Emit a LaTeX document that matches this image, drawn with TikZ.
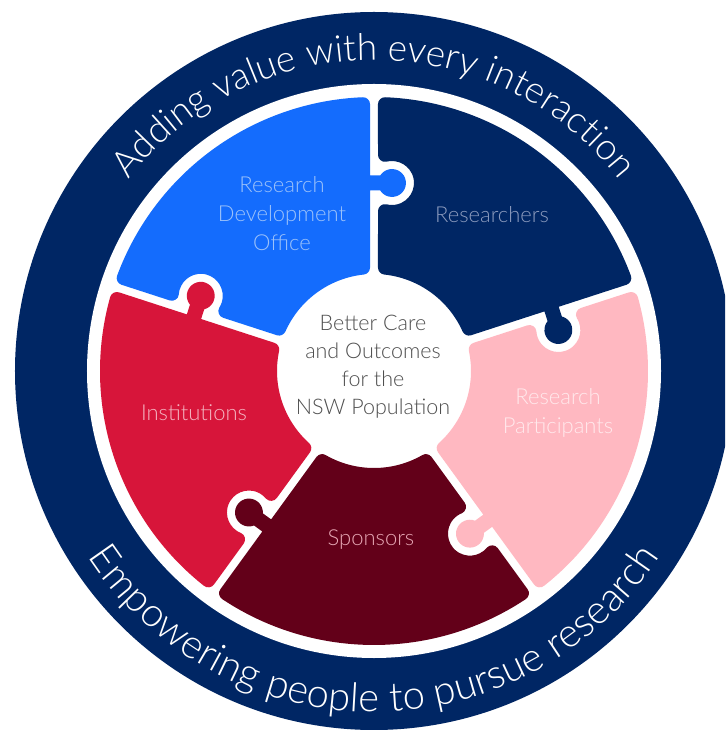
\documentclass[tikz,border=0pt]{standalone}
\usepackage{fontspec}
\setmainfont{Lato}
\IfFontExistsTF{Lato Light}{\newfontfamily\PZlight{Lato Light}}{\newfontfamily\PZlight{Lato}}
\usetikzlibrary{calc,decorations.text}
\definecolor{nswnavy}{HTML}{002664}
\definecolor{nswblue}{HTML}{146CFD}
\definecolor{nswmaroon}{HTML}{630019}
\definecolor{nswred}{HTML}{D7153A}
\definecolor{nswpink}{HTML}{FFB8C1}
\definecolor{txtblue}{HTML}{9CC2FA}
\definecolor{txtnavy}{HTML}{8C9BBE}
\definecolor{txtpink}{HTML}{FFE9EC}
\definecolor{txtmaroon}{HTML}{E6A7B4}
\definecolor{txtred}{HTML}{F4B3C0}
\definecolor{txtgrey}{HTML}{4F4F4F}
% geometry (1pt = 1px); shapes are shrunk by rho = 7 and re-grown by a 14pt stroke
\def\PZro{267}   % outer radius minus rho
\def\PZri{104}   % inner radius plus rho
\def\PZe{11}     % half gap plus rho
\def\PZk{188}    % radial position of knob
\def\PZd{18}     % knob head offset from divider
\def\PZh{7}      % shrunk knob head radius
\def\PZn{0.5}    % shrunk knob neck half width
\def\PZH{29}     % shrunk socket radius
\newcommand{\PZpiece}[2]{%
  \pgfmathsetmacro{\PZa}{#1}%
  \pgfmathsetmacro{\PZb}{#1+72}%
  \pgfmathsetmacro{\PZao}{\PZa+asin(\PZe/\PZro)}%
  \pgfmathsetmacro{\PZbo}{\PZb-asin(\PZe/\PZro)}%
  \pgfmathsetmacro{\PZai}{\PZa+asin(\PZe/\PZri)}%
  \pgfmathsetmacro{\PZbi}{\PZb-asin(\PZe/\PZri)}%
  \pgfmathsetmacro{\PZal}{acos(\PZn/\PZh)}%
  \pgfmathsetmacro{\PZtn}{\PZd-sqrt(\PZh*\PZh-\PZn*\PZn)}%
  \pgfmathsetmacro{\PZbe}{asin((\PZd-\PZe)/\PZH)}%
  \pgfmathsetmacro{\PZsq}{sqrt(\PZH*\PZH-(\PZd-\PZe)*(\PZd-\PZe))}%
  \pgfmathsetmacro{\PZsu}{\PZk+\PZsq}%
  \pgfmathsetmacro{\PZnl}{\PZk-\PZn}%
  \pgfmathsetmacro{\PZnu}{\PZk+\PZn}%
  \pgfmathsetmacro{\PZsA}{\PZb+\PZbe}%
  \pgfmathsetmacro{\PZsB}{\PZb-180-\PZbe}%
  \pgfmathsetmacro{\PZkA}{\PZa+180-\PZal}%
  \pgfmathsetmacro{\PZkB}{\PZa+360+\PZal}%
  \filldraw[piecestyle, fill=#2, draw=#2]
    (\PZao:\PZro) arc[start angle=\PZao, end angle=\PZbo, radius=\PZro]
    -- ($(\PZb:\PZsu)+(\PZb-90:\PZe)$)
    arc[start angle=\PZsA, end angle=\PZsB, radius=\PZH]
    -- (\PZbi:\PZri)
    arc[start angle=\PZbi, end angle=\PZai, radius=\PZri]
    -- ($(\PZa:\PZnl)+(\PZa+90:\PZe)$)
    -- ($(\PZa:\PZnl)+(\PZa-90:\PZtn)$)
    arc[start angle=\PZkA, end angle=\PZkB, radius=\PZh]
    -- ($(\PZa:\PZnu)+(\PZa+90:\PZe)$)
    -- cycle;
}
\newcommand{\PZringfontA}{\PZlight\fontsize{37}{37}\selectfont}
\newcommand{\PZringfontB}{\PZlight\fontsize{40}{40}\selectfont}
\begin{document}
\begin{tikzpicture}[x=1pt,y=1pt,
  piecestyle/.style={line width=14pt, line join=round},
  lbl/.style={align=center, font=\PZlight\fontsize{22}{29}\selectfont, inner sep=0pt},
  ringtext/.style={decorate, decoration={text along path, text align=center, text color=white, text={#1}}}]
\useasboundingbox (-374,-359) rectangle (351,371);
\clip (-374,-359) rectangle (351,371);
\fill[white] (-374,-359) rectangle (351,371);
% outer ring
\fill[nswnavy] (0,0) circle[radius=359];
\fill[white] (0,0) circle[radius=287];
% ring texts
\path[ringtext={|\PZringfontA|Adding value with every interaction}]
  (170:311) arc[start angle=170, end angle=10, radius=311];
\path[ringtext={|\PZringfontB|Empowering people to pursue research}]
  (190:341) arc[start angle=190, end angle=350, radius=341];
% puzzle pieces
\PZpiece{90}{nswblue}
\PZpiece{18}{nswnavy}
\PZpiece{-54}{nswpink}
\PZpiece{-126}{nswmaroon}
\PZpiece{162}{nswred}
% labels
\node[lbl, text=txtblue] (rdo) at (-92,157) {Research\\Development\\Office};
\node[lbl, text=txtnavy] (researchers) at (118,156) {Researchers};
\node[lbl, text=txtpink] (participants) at (184,-42) {Research\\Participants};
\node[lbl, text=txtmaroon] (sponsors) at (-3,-169) {Sponsors};
\node[lbl, text=txtred] (institutions) at (-180,-42) {Institutions};
\node[lbl, text=txtgrey, font=\PZlight\fontsize{21.5}{28}\selectfont] (centre) at (-1,4) {Better Care\\and Outcomes\\for the\\NSW Population};
\end{tikzpicture}
\end{document}
